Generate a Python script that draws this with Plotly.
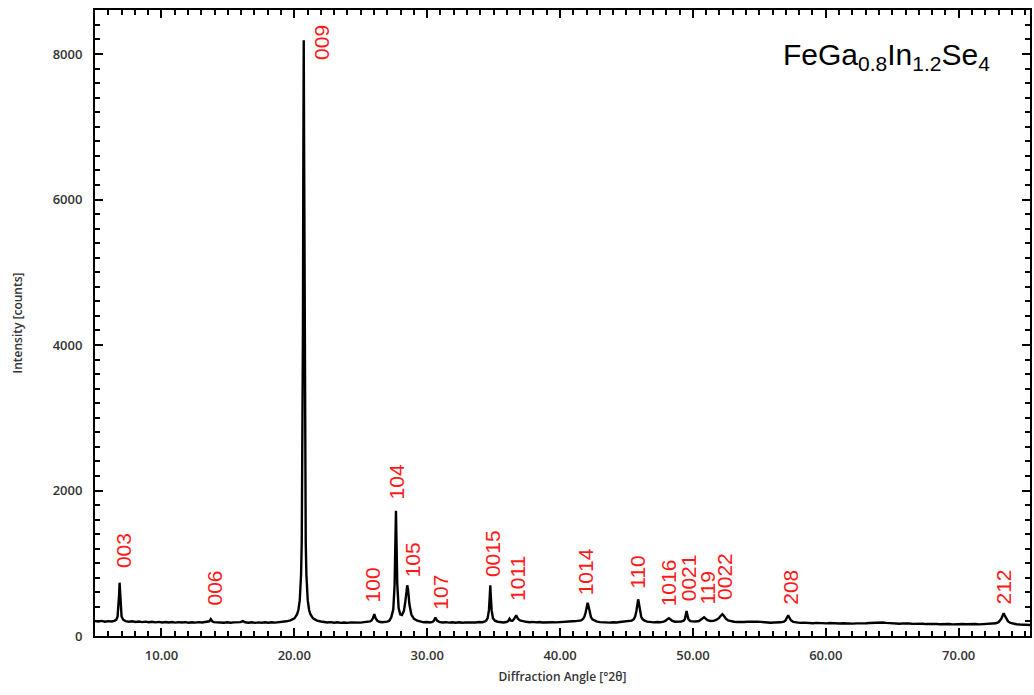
import plotly.graph_objects as go

# ---- XRD pattern (2theta [deg], intensity [counts]) ----
pattern = [
    (5.00, 205), (5.25, 198), (5.50, 208), (5.75, 196), (6.00, 204), (6.25, 200), (6.45, 208),
    (6.60, 222), (6.70, 268), (6.76, 375), (6.81, 555), (6.85, 733), (6.89, 555), (6.94, 375),
    (7.00, 268), (7.12, 224), (7.30, 205),
    (7.55, 197), (7.80, 203), (8.05, 193), (8.30, 199), (8.55, 191), (8.80, 197), (9.05, 189),
    (9.30, 196), (9.55, 187), (9.80, 194), (10.05, 186), (10.30, 193), (10.55, 185), (10.80, 192),
    (11.05, 184), (11.30, 191), (11.55, 185), (11.80, 190), (12.05, 183), (12.30, 189), (12.55, 184),
    (12.80, 191), (13.05, 185), (13.30, 190), (13.50, 192),
    (13.60, 202), (13.71, 232), (13.82, 203), (13.95, 190),
    (14.20, 186), (14.45, 191), (14.70, 183), (14.95, 188), (15.20, 182), (15.45, 187), (15.70, 184),
    (15.95, 191), (16.13, 205), (16.30, 189), (16.55, 183), (16.80, 188), (17.05, 181), (17.30, 187),
    (17.55, 182), (17.80, 188), (18.05, 183), (18.30, 189), (18.55, 184), (18.80, 190), (19.05, 186),
    (19.41, 202), (19.71, 214),
    (20.01, 243), (20.21, 299), (20.31, 361), (20.41, 493), (20.51, 845), (20.56, 1288), (20.61, 2300),
    (20.65, 4185), (20.68, 6585), (20.71, 8190), (20.74, 6585), (20.77, 4185), (20.81, 2300),
    (20.86, 1288), (20.91, 845), (21.01, 493), (21.11, 361), (21.21, 299), (21.41, 243), (21.71, 212),
    (22.00, 200), (22.25, 190), (22.50, 185), (22.75, 190), (23.00, 182), (23.25, 188), (23.50, 180),
    (23.75, 186), (24.00, 181), (24.25, 187), (24.50, 183), (24.75, 189), (25.00, 184), (25.25, 190),
    (25.50, 192), (25.70, 200),
    (25.80, 212), (25.92, 245), (26.02, 300), (26.12, 245), (26.25, 210), (26.40, 196), (26.60, 190),
    (26.80, 193), (27.00, 198), (27.15, 210),
    (27.30, 257), (27.45, 367), (27.55, 705), (27.60, 1216), (27.65, 1722), (27.70, 1218),
    (27.75, 713), (27.85, 383), (27.97, 298), (28.10, 289), (28.25, 346), (28.36, 479), (28.44, 643),
    (28.50, 697), (28.56, 640), (28.66, 440), (28.81, 295), (29.01, 236), (29.26, 210),
    (29.50, 195), (29.75, 188), (30.00, 192), (30.20, 186), (30.40, 195),
    (30.50, 210), (30.62, 252), (30.74, 212), (30.90, 194),
    (31.15, 186), (31.40, 190), (31.65, 184), (31.90, 189), (32.15, 183), (32.40, 188), (32.65, 182),
    (32.90, 187), (33.15, 184), (33.40, 190), (33.65, 186), (33.90, 192), (34.15, 190), (34.35, 200),
    (34.45, 215), (34.55, 245), (34.65, 355), (34.71, 545), (34.75, 697), (34.79, 545), (34.85, 355),
    (34.95, 245), (35.10, 210), (35.30, 196),
    (35.50, 190), (35.75, 186), (35.95, 192),
    (36.10, 205), (36.20, 238), (36.30, 212), (36.42, 210), (36.55, 235), (36.70, 285), (36.82, 240),
    (36.98, 215), (37.20, 202),
    (37.45, 195), (37.70, 190), (37.95, 194), (38.20, 187), (38.45, 192), (38.70, 186), (38.95, 190),
    (39.20, 185), (39.45, 190), (39.70, 187), (39.95, 192), (40.20, 190), (40.45, 195), (40.70, 198),
    (40.95, 203), (41.20, 205),
    (41.38, 207), (41.58, 214), (41.73, 234), (41.83, 263), (41.93, 327), (42.00, 401), (42.08, 458),
    (42.16, 398), (42.23, 323), (42.33, 258), (42.43, 228), (42.58, 210), (42.78, 198),
    (43.00, 190), (43.25, 186), (43.50, 191), (43.75, 184), (44.00, 189), (44.25, 185), (44.50, 192),
    (44.75, 195), (45.00, 200), (45.20, 205),
    (45.40, 212), (45.55, 232), (45.65, 266), (45.75, 347), (45.82, 449), (45.88, 504), (45.94, 445),
    (46.01, 345), (46.11, 262), (46.21, 230), (46.36, 210), (46.56, 198),
    (46.80, 192), (47.05, 188), (47.30, 193), (47.55, 190), (47.80, 198),
    (47.95, 210), (48.08, 232), (48.19, 244), (48.30, 230), (48.45, 207), (48.65, 196), (48.90, 195),
    (49.10, 198), (49.30, 210),
    (49.40, 235), (49.47, 300), (49.52, 342), (49.58, 295), (49.66, 232), (49.80, 205), (50.00, 198),
    (50.20, 200), (50.45, 206), (50.60, 220),
    (50.72, 240), (50.84, 256), (50.96, 240), (51.10, 218), (51.30, 207), (51.55, 208), (51.75, 220),
    (51.95, 245),
    (52.08, 275), (52.22, 300), (52.34, 275), (52.48, 238), (52.65, 215), (52.85, 204), (53.10, 196),
    (53.35, 192), (53.60, 188), (53.85, 192), (54.10, 195), (54.35, 198), (54.60, 203), (54.85, 198),
    (55.10, 194), (55.35, 188), (55.60, 185), (55.85, 182), (56.10, 186), (56.35, 182), (56.60, 188),
    (56.85, 198),
    (56.98, 218), (57.08, 255), (57.17, 286), (57.26, 252), (57.38, 215), (57.55, 195), (57.80, 186),
    (58.05, 180), (58.30, 184), (58.55, 178), (58.80, 182), (59.05, 176), (59.30, 180), (59.55, 175),
    (59.80, 179), (60.05, 174), (60.30, 178), (60.55, 173), (60.80, 177), (61.05, 172), (61.30, 176),
    (61.55, 171), (61.80, 175), (62.05, 170), (62.30, 174), (62.55, 172), (62.80, 176), (63.05, 175),
    (63.30, 179), (63.55, 182), (63.80, 185), (64.05, 190), (64.30, 186), (64.55, 180), (64.80, 176),
    (65.05, 171), (65.30, 175), (65.55, 169), (65.80, 173), (66.05, 167), (66.30, 171), (66.55, 166),
    (66.80, 170), (67.05, 165), (67.30, 169), (67.55, 164), (67.80, 168), (68.05, 163), (68.30, 167),
    (68.55, 162), (68.80, 166), (69.05, 162), (69.30, 165), (69.55, 160), (69.80, 164), (70.05, 160),
    (70.30, 164), (70.55, 161), (70.80, 165), (71.05, 161), (71.30, 164), (71.55, 160), (71.80, 163),
    (72.05, 160), (72.30, 164), (72.55, 168), (72.80, 175), (73.00, 190),
    (73.10, 210), (73.22, 240), (73.32, 285), (73.39, 312), (73.47, 280), (73.58, 235), (73.72, 200),
    (73.90, 180), (74.10, 170), (74.35, 162), (74.60, 158), (74.85, 155), (75.10, 152), (75.40, 150),
]
two_theta = [p[0] for p in pattern]
counts = [p[1] for p in pattern]

# ---- reflection labels (hkl) with the angle / count where each label sits ----
hkl_labels = ["003", "006", "009", "100", "104", "105", "107", "0015", "1011", "1014",
              "110", "1016", "0021", "119", "0022", "208", "212"]
label_angle = [7.15, 13.96, 22.04, 25.92, 27.67, 28.92, 31.0, 34.92, 36.75, 41.94,
               45.81, 48.19, 49.69, 51.07, 52.37, 57.33, 73.34]
label_counts = [907, 385, 7890, 440, 1846, 783, 334, 783, 460, 536,
                619, 385, 454, 399, 467, 399, 399]

compound = "FeGa<sub>0.8</sub>In<sub>1.2</sub>Se<sub>4</sub>"
x_title = "Diffraction Angle [°2θ]"
y_title = "Intensity [counts]"

fig = go.Figure()
fig.add_trace(go.Scatter(x=two_theta, y=counts, mode="lines",
                         line=dict(color="black", width=2.4), showlegend=False,
                         hoverinfo="skip"))

for lab, ang, cnt in zip(hkl_labels, label_angle, label_counts):
    fig.add_annotation(x=ang, y=cnt, text=lab, showarrow=False, textangle=-90,
                       xanchor="center", yanchor="bottom",
                       font=dict(family="Liberation Sans, Arial", size=21, color="#ff1a1a"))

fig.add_annotation(x=0.7332, y=0.925, xref="paper", yref="paper", text=compound,
                   showarrow=False, xanchor="left", yanchor="middle",
                   font=dict(family="Liberation Sans, Arial", size=30, color="black"))

tickfont = dict(family="Open Sans", size=13, color="#333333", weight=600)
titlefont = dict(family="Open Sans", size=12, color="#333333", weight=600)

fig.update_xaxes(range=[5.0, 75.37], tick0=0, dtick=10, tickformat=".2f",
                 ticks="inside", ticklen=8, tickwidth=1.5, tickcolor="black",
                 minor=dict(ticks="inside", dtick=1, ticklen=5, tickwidth=1.5, tickcolor="black"),
                 showline=True, linecolor="black", linewidth=2, mirror="ticks",
                 showgrid=False, zeroline=False, tickfont=tickfont,
                 ticklabelstandoff=6,
                 title=dict(text=x_title, font=titlefont, standoff=10))
fig.update_yaxes(range=[0, 8605], tick0=0, dtick=2000, tickformat="d",
                 ticks="inside", ticklen=8, tickwidth=1.5, tickcolor="black",
                 minor=dict(ticks="inside", dtick=200, ticklen=5, tickwidth=1.5, tickcolor="black"),
                 showline=True, linecolor="black", linewidth=2, mirror="ticks",
                 showgrid=False, zeroline=False, tickfont=tickfont,
                 ticklabelstandoff=8,
                 title=dict(text=y_title, font=titlefont, standoff=27))

fig.update_layout(width=1034, height=695, margin=dict(l=95, r=2, t=10, b=59),
                  plot_bgcolor="white", paper_bgcolor="white")

fig.write_html("out.html")
